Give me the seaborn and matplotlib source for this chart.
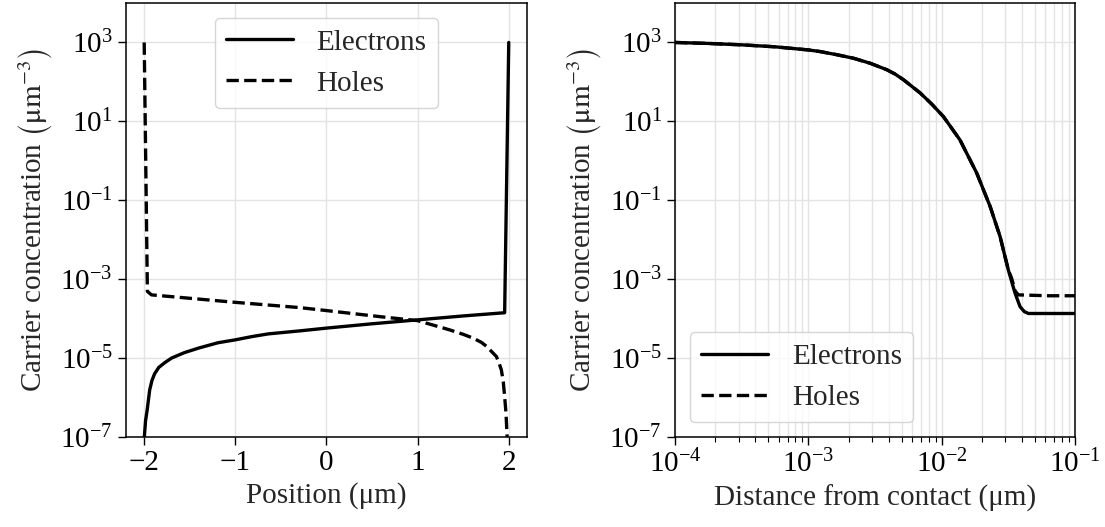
import numpy as np
import pandas as pd
import matplotlib
matplotlib.use("Agg")
import matplotlib.pyplot as plt
import matplotlib.ticker as mticker
import seaborn as sns

# ---- Data ----
# Left panel: carrier concentration vs position
pos_electrons = [-2.0, -1.985, -1.967, -1.94, -1.915, -1.886, -1.84, -1.776, -1.70,
                 -1.62, -1.557, -1.40, -1.19, -1.0, -0.82, -0.64, -0.29, 0.0, 0.5,
                 1.0, 1.5, 1.90, 1.955, 2.0]
n_electrons = [9e-8, 2.6e-7, 4.9e-7, 1.55e-6, 2.7e-6, 4.0e-6, 5.8e-6, 7.6e-6, 1.0e-5,
               1.2e-5, 1.38e-5, 1.8e-5, 2.45e-5, 2.9e-5, 3.5e-5, 4.1e-5, 4.9e-5,
               5.75e-5, 7.4e-5, 9.3e-5, 1.17e-4, 1.38e-4, 1.41e-4, 1.0e3]

pos_holes = [-2.0, -1.965, -1.92, -1.01, -0.29, 0.0, 0.62, 1.0, 1.35, 1.50, 1.61,
             1.70, 1.755, 1.82, 1.864, 1.89, 1.919, 1.94, 1.955, 1.97, 1.98, 1.995]
p_holes = [1.0e3, 4.9e-4, 4.0e-4, 2.6e-4, 1.9e-4, 1.6e-4, 1.1e-4, 8.9e-5, 5.2e-5,
           4.0e-5, 3.2e-5, 2.5e-5, 2.0e-5, 1.4e-5, 1.1e-5, 7.9e-6, 5.0e-6, 2.5e-6,
           1.05e-6, 4.0e-7, 1.26e-7, 3e-8]

# Right panel: carrier concentration vs distance from contact
dist_electrons = [1.0e-4, 1.78e-4, 3.16e-4, 5.62e-4, 1.0e-3, 1.22e-3, 1.63e-3, 2.18e-3,
                  2.90e-3, 3.87e-3, 4.47e-3, 5.16e-3, 6.89e-3, 8.41e-3, 1.03e-2,
                  1.37e-2, 1.83e-2, 2.31e-2, 2.74e-2, 3.16e-2, 3.55e-2, 3.87e-2,
                  4.17e-2, 4.47e-2, 6.3e-2, 1.0e-1]
conc_electrons = [1.0e3, 944, 870, 776, 646, 589, 490, 398, 298, 204, 158, 114, 52.5,
                  27.5, 13.2, 3.39, 0.49, 0.069, 0.012, 1.7e-3, 4.4e-4, 2.0e-4,
                  1.5e-4, 1.35e-4, 1.35e-4, 1.35e-4]

dist_holes = [1.0e-4, 1.78e-4, 3.16e-4, 5.62e-4, 1.0e-3, 1.22e-3, 1.63e-3, 2.18e-3,
              2.90e-3, 3.87e-3, 4.47e-3, 5.16e-3, 6.89e-3, 8.41e-3, 1.03e-2,
              1.37e-2, 1.83e-2, 2.31e-2, 2.74e-2, 3.16e-2, 3.34e-2, 3.55e-2,
              3.76e-2, 6.3e-2, 1.0e-1]
conc_holes = [1.0e3, 944, 870, 776, 646, 589, 490, 398, 298, 204, 158, 114, 52.5,
              27.5, 13.2, 3.39, 0.49, 0.069, 0.012, 1.7e-3, 1.07e-3, 5.0e-4,
              4.0e-4, 3.8e-4, 3.8e-4]

series_labels = ["Electrons", "Holes"]
y_ticks = [1e-7, 1e-5, 1e-3, 1e-1, 1e1, 1e3]
left_x_ticks = [-2, -1, 0, 1, 2]

# ---- Style ----
sns.set_theme(style="ticks")
FS = 21
plt.rcParams.update({
    "font.family": ["Liberation Serif", "DejaVu Serif"],
    "mathtext.fontset": "stix",
    "font.size": FS,
    "axes.labelsize": FS,
    "xtick.labelsize": FS,
    "ytick.labelsize": FS,
    "legend.fontsize": FS,
    "axes.edgecolor": "black",
    "axes.linewidth": 1.1,
    "xtick.color": "black",
    "ytick.color": "black",
    "xtick.major.size": 6,
    "ytick.major.size": 6,
    "xtick.minor.size": 3.5,
    "xtick.major.width": 1.0,
    "ytick.major.width": 1.0,
    "xtick.minor.width": 0.8,
    "xtick.direction": "out",
    "ytick.direction": "out",
})

fig = plt.figure(figsize=(11.05, 5.27), dpi=100)
ax1 = fig.add_axes([0.1140, 0.1708, 0.3629, 0.8235])
ax2 = fig.add_axes([0.6109, 0.1708, 0.3620, 0.8235])

lw = 2.4
grid_kw = dict(color="#e3e3e3", linewidth=1.0)
ylabel = r"Carrier concentration $\left(\underset{\ }{\mathrm{μm}}^{-3}\right)$"

# Left panel
sns.lineplot(x=pos_electrons, y=n_electrons, ax=ax1, color="black", lw=lw,
             sort=False, estimator=None, label=series_labels[0])
sns.lineplot(x=pos_holes, y=p_holes, ax=ax1, color="black", lw=lw, linestyle="--",
             sort=False, estimator=None, label=series_labels[1])
ax1.set_yscale("log")
ax1.set_ylim(1e-7, 1e4)
ax1.set_xlim(-2.2, 2.2)
ax1.set_xticks(left_x_ticks)
ax1.set_xticklabels([f"{v}".replace("-", "\u2212") for v in left_x_ticks])
ax1.set_yticks(y_ticks)
ax1.yaxis.set_minor_locator(mticker.NullLocator())
ax1.grid(True, which="major", **grid_kw)
ax1.set_axisbelow(True)
ax1.set_xlabel("Position (μm)")
ax1.set_ylabel(ylabel)
ax1.legend(loc="upper center", frameon=True, fancybox=True, edgecolor="#cccccc",
           handlelength=2.3)

# Right panel
sns.lineplot(x=dist_electrons, y=conc_electrons, ax=ax2, color="black", lw=lw,
             sort=False, estimator=None, label=series_labels[0])
sns.lineplot(x=dist_holes, y=conc_holes, ax=ax2, color="black", lw=lw, linestyle="--",
             sort=False, estimator=None, label=series_labels[1])
ax2.set_xscale("log")
ax2.set_yscale("log")
ax2.set_xlim(1e-4, 1e-1)
ax2.set_ylim(1e-7, 1e4)
ax2.set_yticks(y_ticks)
ax2.yaxis.set_minor_locator(mticker.NullLocator())
ax2.xaxis.set_minor_locator(mticker.LogLocator(base=10, subs=np.arange(2, 10)))
ax2.xaxis.set_minor_formatter(mticker.NullFormatter())
ax2.grid(True, which="major", **grid_kw)
ax2.grid(True, which="minor", axis="x", **grid_kw)
ax2.set_axisbelow(True)
ax2.set_xlabel("Distance from contact (μm)")
ax2.set_ylabel(ylabel)
ax2.legend(loc="lower left", frameon=True, fancybox=True, edgecolor="#cccccc",
           handlelength=2.3)

for ax in (ax1, ax2):
    for side in ("top", "right"):
        ax.spines[side].set_visible(True)

fig.savefig("out.png", dpi=100)
